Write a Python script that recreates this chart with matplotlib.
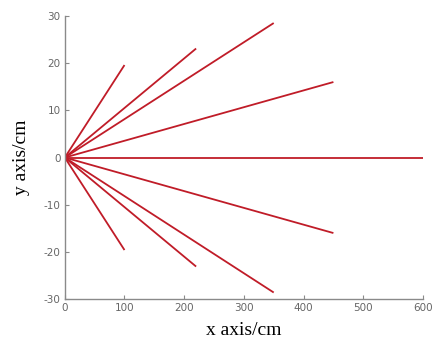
import matplotlib.pyplot as plt

plt.rcParams["axes.unicode_minus"] = False

# End points of the rays, all starting at the origin
end_x = [100, 220, 350, 450, 600, 450, 350, 220, 100]
end_y = [19.6, 23.1, 28.5, 16.0, 0.0, -16.0, -28.6, -23.1, -19.6]

x_ticks = [0, 100, 200, 300, 400, 500, 600]
y_ticks = [-30, -20, -10, 0, 10, 20, 30]

fig = plt.figure(figsize=(4.32, 3.47), dpi=100)
ax = fig.add_axes([0.150, 0.138, 0.829, 0.816])

for x, y in zip(end_x, end_y):
    ax.plot([0, x], [0, y], color="#c01c28", linewidth=1.3, solid_capstyle="butt")

ax.set_xlim(0, 600)
ax.set_ylim(-30, 30)
ax.set_xticks(x_ticks)
ax.set_yticks(y_ticks)

# grey axes, only left and bottom
for side in ["top", "right"]:
    ax.spines[side].set_visible(False)
for side in ["left", "bottom"]:
    ax.spines[side].set_color("#8a8a8a")
    ax.spines[side].set_linewidth(1.0)
ax.tick_params(direction="in", length=3, width=0.8, color="#8a8a8a",
               labelcolor="#666666", labelsize=7.5, pad=3)

ax.set_xlabel("x axis/cm", family="Liberation Serif", fontsize=14, labelpad=6)
ax.set_ylabel("y axis/cm", family="Liberation Serif", fontsize=14, labelpad=10)

plt.savefig("out.png", dpi=100)
